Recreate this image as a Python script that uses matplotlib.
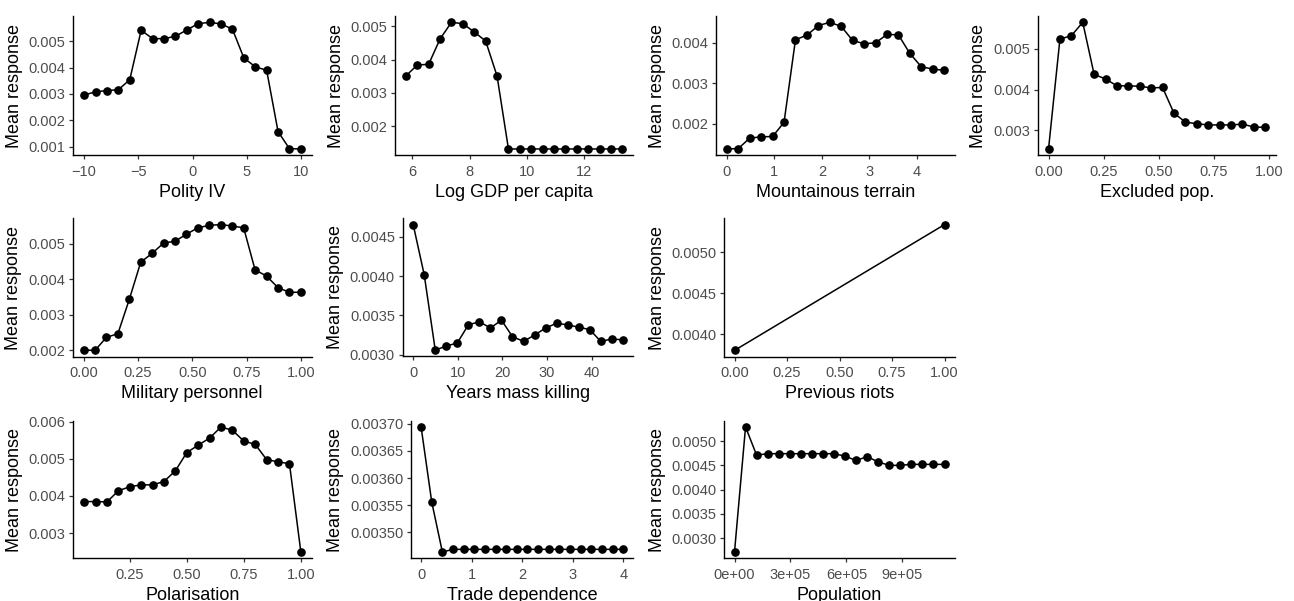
import matplotlib
matplotlib.use("Agg")
import matplotlib.pyplot as plt
from matplotlib.ticker import FixedLocator, FuncFormatter

plt.rcParams["font.family"] = ["Liberation Sans", "DejaVu Sans"]

# ---- partial dependence values (mean response over a grid of each predictor) ----
polity_x = [-10 + i * 20 / 19 for i in range(20)]
polity_y = [0.00296, 0.00308, 0.00313, 0.00316, 0.00354, 0.00542, 0.00510, 0.00510, 0.00519, 0.00543,
            0.00567, 0.00572, 0.00566, 0.00546, 0.00437, 0.00403, 0.00390, 0.00157, 0.00092, 0.00091]

gdp_x = [5.77 + i * (13.34 - 5.77) / 19 for i in range(20)]
gdp_y = [0.00351, 0.00384, 0.00386, 0.00462, 0.00512, 0.00508, 0.00483, 0.00456, 0.00351, 0.00132,
         0.00132, 0.00132, 0.00132, 0.00132, 0.00132, 0.00132, 0.00132, 0.00132, 0.00132, 0.00132]

mount_x = [i * 4.575 / 19 for i in range(20)]
mount_y = [0.00137, 0.00138, 0.00164, 0.00167, 0.00168, 0.00203, 0.00408, 0.00419, 0.00443, 0.00451,
           0.00441, 0.00406, 0.00398, 0.00400, 0.00421, 0.00420, 0.00374, 0.00341, 0.00335, 0.00332]

excl_x = [i * 0.983 / 19 for i in range(20)]
excl_y = [0.00254, 0.00524, 0.00532, 0.00565, 0.00437, 0.00426, 0.00409, 0.00409, 0.00408, 0.00404,
          0.00405, 0.00342, 0.00320, 0.00316, 0.00313, 0.00313, 0.00313, 0.00315, 0.00308, 0.00307]

milper_x = [i / 19 for i in range(20)]
milper_y = [0.00200, 0.00199, 0.00236, 0.00246, 0.00343, 0.00448, 0.00473, 0.00502, 0.00507, 0.00527,
            0.00545, 0.00552, 0.00554, 0.00550, 0.00545, 0.00426, 0.00409, 0.00376, 0.00363, 0.00363]

mk_x = [i * 46.95 / 19 for i in range(20)]
mk_y = [0.004655, 0.004017, 0.00306, 0.00311, 0.00315, 0.00338, 0.00342, 0.00334, 0.00344, 0.00323,
        0.00317, 0.00325, 0.00334, 0.00340, 0.00338, 0.00335, 0.00332, 0.00317, 0.00320, 0.00319]

riots_x = [0.0, 1.0]
riots_y = [0.003806, 0.005339]

polar_x = [0.05 * (i + 1) for i in range(20)]
polar_y = [0.00385, 0.00385, 0.00384, 0.00414, 0.00425, 0.00430, 0.00430, 0.00439, 0.00468, 0.00517,
           0.00537, 0.00556, 0.00586, 0.00577, 0.00548, 0.00539, 0.00498, 0.00492, 0.00487, 0.00249]

trade_x = [i * 4 / 19 for i in range(20)]
trade_y = [0.003694, 0.003556, 0.003464] + [0.003469] * 17

pop_x = [i * 1.126e6 / 19 for i in range(20)]
pop_y = [0.002716, 0.00529, 0.00471, 0.00474, 0.00474, 0.00474, 0.00474, 0.00474, 0.00474, 0.00474,
         0.00469, 0.00460, 0.00468, 0.00457, 0.00450, 0.00450, 0.00452, 0.00452, 0.00452, 0.00452]

W, H = 1294, 601


def fmt(d):
    return FuncFormatter(lambda v, p: f"{v:.{d}f}".replace("-", "\u2212"))


def sci(v, p):
    m, e = f"{v:.0e}".split("e")
    return f"{m}e{e[0]}{int(e[1:]):02d}"


# (x, y, xlabel, xticks, x formatter, yticks, y decimals, box in px: left, top, right, bottom)
panels = [
    (polity_x, polity_y, "Polity IV", [-10, -5, 0, 5, 10], fmt(0),
     [0.001, 0.002, 0.003, 0.004, 0.005], 3, (73.3, 16, 311.7, 155.3)),
    (gdp_x, gdp_y, "Log GDP per capita", [6, 8, 10, 12], fmt(0),
     [0.002, 0.003, 0.004, 0.005], 3, (395, 16, 633.3, 155.3)),
    (mount_x, mount_y, "Mountainous terrain", [0, 1, 2, 3, 4], fmt(0),
     [0.002, 0.003, 0.004], 3, (716, 16, 955, 155.3)),
    (excl_x, excl_y, "Excluded pop.", [0, 0.25, 0.5, 0.75, 1.0], fmt(2),
     [0.003, 0.004, 0.005], 3, (1037.7, 16, 1276, 155.3)),
    (milper_x, milper_y, "Military personnel", [0, 0.25, 0.5, 0.75, 1.0], fmt(2),
     [0.002, 0.003, 0.004, 0.005], 3, (72.7, 218.3, 311.7, 356.7)),
    (mk_x, mk_y, "Years mass killing", [0, 10, 20, 30, 40], fmt(0),
     [0.003, 0.0035, 0.004, 0.0045], 4, (402.7, 218.3, 633.3, 356.3)),
    (riots_x, riots_y, "Previous riots", [0, 0.25, 0.5, 0.75, 1.0], fmt(2),
     [0.004, 0.0045, 0.005], 4, (724, 218.3, 955, 356.7)),
    (polar_x, polar_y, "Polarisation", [0.25, 0.5, 0.75, 1.0], fmt(2),
     [0.003, 0.004, 0.005, 0.006], 3, (73.3, 420.7, 311.7, 558.3)),
    (trade_x, trade_y, "Trade dependence", [0, 1, 2, 3, 4], fmt(0),
     [0.0035, 0.00355, 0.0036, 0.00365, 0.0037], 5, (411, 420.7, 633.3, 558.3)),
    (pop_x, pop_y, "Population", [0, 3e5, 6e5, 9e5], FuncFormatter(sci),
     [0.003, 0.0035, 0.004, 0.0045, 0.005], 4, (724, 420.7, 955, 558.3)),
]

fig = plt.figure(figsize=(W / 100, H / 100), dpi=100)
for x, y, xlab, xt, xf, yt, yd, (l, t, r, b) in panels:
    ax = fig.add_axes([l / W, 1 - b / H, (r - l) / W, (b - t) / H])
    ax.plot(x, y, "-", color="black", lw=1.1)
    ax.plot(x, y, "o", color="black", ms=5.2)
    ax.margins(0.05)
    ax.xaxis.set_major_locator(FixedLocator(xt))
    ax.xaxis.set_major_formatter(xf)
    ax.yaxis.set_major_locator(FixedLocator(yt))
    ax.yaxis.set_major_formatter(fmt(yd))
    for s in ("top", "right"):
        ax.spines[s].set_visible(False)
    for s in ("left", "bottom"):
        ax.spines[s].set_linewidth(1.0)
    ax.tick_params(direction="out", length=3.2, width=0.9, color="#333333",
                   labelcolor="#4D4D4D", labelsize=10.5, pad=2.4)
    ax.tick_params(axis="x", pad=3.6)
    ax.set_xlabel(xlab, fontsize=13, labelpad=3.5)
    ax.set_ylabel("Mean response", fontsize=13, labelpad=4)

fig.savefig("out.png", dpi=100)
